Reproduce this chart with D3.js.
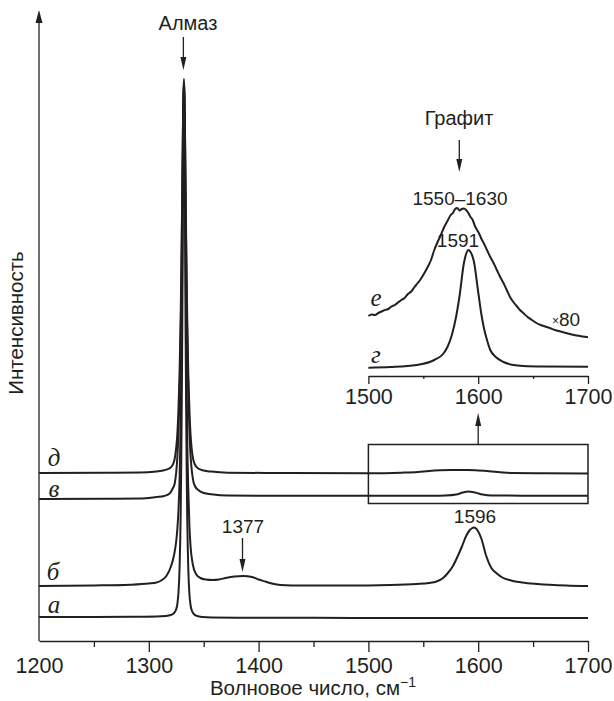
<!DOCTYPE html>
<html>
<head>
<meta charset="utf-8">
<script src="https://cdn.jsdelivr.net/npm/d3@7"></script>
<style>
  html, body { margin: 0; padding: 0; background: #fff; }
  svg { display: block; }
  text { font-family: "Liberation Sans", Arial, sans-serif; fill: #231f20; }
  .lbl { font-family: "Liberation Serif", "DejaVu Serif", serif; font-style: italic; }
</style>
</head>
<body>
<script>
// ---------------- DATA ----------------
const mainTicks = [1200, 1300, 1400, 1500, 1600, 1700];
const mainMinorTicks = [1250, 1350, 1450, 1550, 1650];
const insetTicks = [1500, 1600, 1700];
const insetMinorTicks = [1550, 1650];

// trace а (main plot)
const waveA = [1200,1250,1290,1307,1315,1320,1323,1325,1326,1327,1328,1329,1329.5,1330,1330.5,1331,1331.5,1332,1332.5,1333,1333.5,1334,1334.5,1335,1336,1337,1338,1339,1341,1344,1349,1357,1380,1450,1550,1650,1700];
const intA  = [24,24,24.3,24.5,25,26,28,32,37,48,72,125,172,236,315,421,516,553,516,420,314,235,171,124,71,47,36,31,27,25,24,23.5,23.3,23.2,23,23,23];

// trace б
const waveB = [1200,1250,1283,1300,1307,1312,1316,1320,1323,1325,1326,1327,1328,1329,1329.5,1330,1330.5,1331,1331.5,1332,1332.5,1333,1333.5,1334,1334.5,1335,1336,1337,1338,1340,1343,1347,1352,1358,1364,1370,1378,1386,1394,1400,1406,1412,1420,1440,1480,1520,1544,1555,1562,1568,1572,1577,1581,1585,1589,1592,1594,1596,1598,1600,1603,1607,1612,1617,1622,1630,1640,1654,1680,1700];
const intB  = [55,55.5,56.3,57.5,58.5,61,65,74,86,100,112,130,160,215,260,320,390,470,535,557,535,470,390,318,255,205,150,115,95,77,67,63,61.5,61,61.5,63,64.5,65,64,61.5,59.5,57.5,56,55.5,55.5,56,57,58,59.5,63,67.5,75,84,94,105,110.5,112.5,113.5,112.5,109.5,102,86,73,67.5,63.5,60.5,58.5,57,55.5,55];

// trace в
const waveV = [1200,1260,1292,1307,1314,1319,1322,1323.5,1325,1326,1327,1328,1329,1329.5,1330,1330.5,1331,1331.5,1332,1332.5,1333,1333.5,1334,1334.5,1335,1336,1337,1338,1339,1340.5,1342,1345,1350,1357,1372,1420,1500,1560,1570,1580,1586,1591,1597,1604,1612,1640,1700];
const intV  = [142,142.2,142.4,144,145,147.5,153,157,169,184,209,246,305,346,392,446,501,542,559,543,501,447,393,348,306,249,211,186,172,160,155,151,148,146.7,145.4,145.2,145.3,145.3,145.5,146.5,148.5,149.5,148.5,146.5,145.5,145.3,145.3];

// trace д
const waveD = [1200,1260,1292,1307,1314,1319,1322,1323.5,1325,1326,1327,1328,1329,1329.5,1330,1330.5,1331,1331.5,1332,1332.5,1333,1333.5,1334,1334.5,1335,1336,1337,1338,1339,1340.5,1342,1345,1350,1357,1372,1420,1500,1530,1545,1555,1565,1575,1590,1600,1610,1620,1630,1660,1700];
const intD  = [168,168.2,168.4,169.6,170.8,172.7,176.7,181.8,193.6,207,231,266.5,322,361,404,456,507,546,562,546,507,456,404,361,322,266,231,207,193,181.5,176.5,172.5,170.5,169.4,168.3,168,167.7,168.3,169,170,170.7,171,171,170.5,169.8,168.8,168,167.7,167.5];

// inset trace г
const waveG = [1500,1520,1544,1560,1568,1572,1576,1580,1583,1587,1589,1591,1593,1596,1600,1603,1605,1608,1611,1616,1623,1632,1641,1660,1700];
const intG  = [8.3,9,11,16,22,29,41,60,80,113,122,126,124,115,84,61,49,36,26,19,14,11,10,9.5,9.3];

// inset trace е (×80)
const waveE = [1500,1503,1506,1509,1512,1515,1518,1521,1524,1527,1530,1533,1536,1539,1542,1545,1548,1551,1554,1557,1560,1563,1566,1569,1572,1575,1577,1579,1581,1583,1585,1587,1589,1591,1593,1595,1597,1599,1601,1603,1605,1608,1611,1614,1617,1620,1623,1626,1629,1632,1635,1638,1641,1645,1649,1653,1657,1661,1665,1670,1675,1680,1685,1690,1695,1700];
const intE  = [60,61.5,61,63,64.5,66,67,69.5,71,73.5,76,78,82,84.5,89,93,97.5,103,109,116,126,134,141,149,155,161,163,167,168,165.5,167,167.5,166,163,159,156,150,146,142,137,133,126,119,113,106,99,93,86,79,74,70,66,63,59,56,53,51,49.5,48,46,44.5,43,41.5,40.5,39.5,38.7];

// ---------------- CHART ----------------
const W = 614, H = 701;
const ink = "#231f20";
const svg = d3.select("body").append("svg").attr("width", W).attr("height", H);

const x = d3.scaleLinear().domain([1200, 1700]).range([39, 588]);
const y = d3.scaleLinear().domain([0, 630]).range([641, 11]);
const xi = d3.scaleLinear().domain([1500, 1700]).range([x(1500), x(1700)]);
const yi = d3.scaleLinear().domain([0, 200]).range([376, 176]);

function drawTrace(xs, ys, sx, sy, sw) {
  const pts = xs.map((v, i) => [v, ys[i]]);
  svg.append("path")
    .datum(pts)
    .attr("fill", "none")
    .attr("stroke", ink)
    .attr("stroke-width", sw)
    .attr("stroke-linejoin", "round")
    .attr("d", d3.line().x(d => sx(d[0])).y(d => sy(d[1])).curve(d3.curveMonotoneX));
}

function arrow(x0, y0, y1, hl, hw) {
  const dir = y1 > y0 ? 1 : -1;
  svg.append("line").attr("x1", x0).attr("x2", x0).attr("y1", y0).attr("y2", y1 - dir * hl * 0.6)
    .attr("stroke", ink).attr("stroke-width", 1.3);
  svg.append("path")
    .attr("d", `M${x0},${y1} L${x0 - hw},${y1 - dir * hl} L${x0 + hw},${y1 - dir * hl} Z`)
    .attr("fill", ink);
}

// main x axis
const gx = svg.append("g").attr("transform", `translate(0,${y(0)})`)
  .call(d3.axisBottom(x).tickValues(mainTicks).tickSize(11).tickSizeOuter(0).tickPadding(6).tickFormat(d3.format("d")));
gx.selectAll(".tick").filter(d => d === 1200).select("line").remove();
const gxm = svg.append("g").attr("transform", `translate(0,${y(0)})`)
  .call(d3.axisBottom(x).tickValues(mainMinorTicks).tickSize(6).tickSizeOuter(0).tickFormat(""));
gxm.select(".domain").remove();
[gx, gxm].forEach(g => {
  g.select(".domain").attr("stroke", ink).attr("stroke-width", 1.3);
  g.selectAll(".tick line").attr("stroke", ink).attr("stroke-width", 1.3);
  g.selectAll(".tick text").attr("font-size", 21.5).attr("fill", ink)
    .attr("font-family", "Liberation Sans, Arial, sans-serif");
});

// main y axis with arrow
svg.append("line").attr("x1", x(1200)).attr("x2", x(1200)).attr("y1", y(0)).attr("y2", 20)
  .attr("stroke", ink).attr("stroke-width", 1.3);
svg.append("path").attr("d", `M${x(1200)},10 L${x(1200) - 3.5},23 L${x(1200) + 3.5},23 Z`).attr("fill", ink);

// axis titles
const xt = svg.append("text").attr("x", 313).attr("y", 695).attr("text-anchor", "middle").attr("font-size", 20.5);
xt.append("tspan").text("Волновое число, см");
xt.append("tspan").attr("dy", -8).attr("font-size", 14).text("−1");
svg.append("text").attr("transform", "translate(23,323) rotate(-90)").attr("text-anchor", "middle")
  .attr("font-size", 20.5).text("Интенсивность");

// main traces
drawTrace(waveA, intA, x, y, 2);
drawTrace(waveB, intB, x, y, 2);
drawTrace(waveV, intV, x, y, 2);
drawTrace(waveD, intD, x, y, 2);

// trace labels
const lbl = (t, px, py) => svg.append("text").attr("class", "lbl").attr("x", px).attr("y", py)
  .attr("text-anchor", "middle").attr("font-size", 25).text(t);
lbl("д", 54, 466);
lbl("в", 54, 497);
lbl("б", 53, 580);
lbl("а", 54, 613);

// annotations main
svg.append("text").attr("x", 188).attr("y", 30).attr("text-anchor", "middle").attr("font-size", 20).text("Алмаз");
arrow(x(1331.5), 37, 70, 13, 3);
svg.append("text").attr("x", 243).attr("y", 533).attr("text-anchor", "middle").attr("font-size", 19).text("1377");
arrow(242.5, 538, 572, 13, 3);
svg.append("text").attr("x", 475).attr("y", 523).attr("text-anchor", "middle").attr("font-size", 19).text("1596");

// zoom box
svg.append("rect").attr("x", x(1500)).attr("y", 444.5).attr("width", x(1700) - x(1500)).attr("height", 59)
  .attr("fill", "none").attr("stroke", ink).attr("stroke-width", 1.5);
arrow(x(1600), 444.5, 413, 13, 3);

// inset axis
const gi = svg.append("g").attr("transform", `translate(0,${yi(0)})`)
  .call(d3.axisBottom(xi).tickValues(insetTicks).tickSize(8).tickSizeOuter(0).tickPadding(5).tickFormat(d3.format("d")));
const gim = svg.append("g").attr("transform", `translate(0,${yi(0)})`)
  .call(d3.axisBottom(xi).tickValues(insetMinorTicks).tickSize(3).tickSizeOuter(0).tickFormat(""));
gim.select(".domain").remove();
[gi, gim].forEach(g => {
  g.select(".domain").attr("stroke", ink).attr("stroke-width", 1.3);
  g.selectAll(".tick line").attr("stroke", ink).attr("stroke-width", 1.3);
  g.selectAll(".tick text").attr("font-size", 21.5).attr("fill", ink)
    .attr("font-family", "Liberation Sans, Arial, sans-serif");
});

// inset traces
drawTrace(waveE, intE, xi, yi, 2);
drawTrace(waveG, intG, xi, yi, 2);
svg.append("text").attr("class", "lbl").attr("x", 376).attr("y", 306).attr("text-anchor", "middle").attr("font-size", 25).text("е");
svg.append("text").attr("class", "lbl").attr("x", 376).attr("y", 363).attr("text-anchor", "middle").attr("font-size", 25).text("г");
const x80 = svg.append("text").attr("x", 566).attr("y", 326).attr("text-anchor", "middle");
x80.append("tspan").attr("font-size", 12).attr("dy", -1).text("×");
x80.append("tspan").attr("font-size", 19).attr("dy", 1).text("80");

// inset annotations
svg.append("text").attr("x", 459).attr("y", 125).attr("text-anchor", "middle").attr("font-size", 20).text("Графит");
arrow(459.3, 140, 172, 13, 3);
svg.append("text").attr("x", 460).attr("y", 205).attr("text-anchor", "middle").attr("font-size", 19).text("1550–1630");
svg.append("text").attr("x", 458).attr("y", 247).attr("text-anchor", "middle").attr("font-size", 19).text("1591");
</script>
</body>
</html>
